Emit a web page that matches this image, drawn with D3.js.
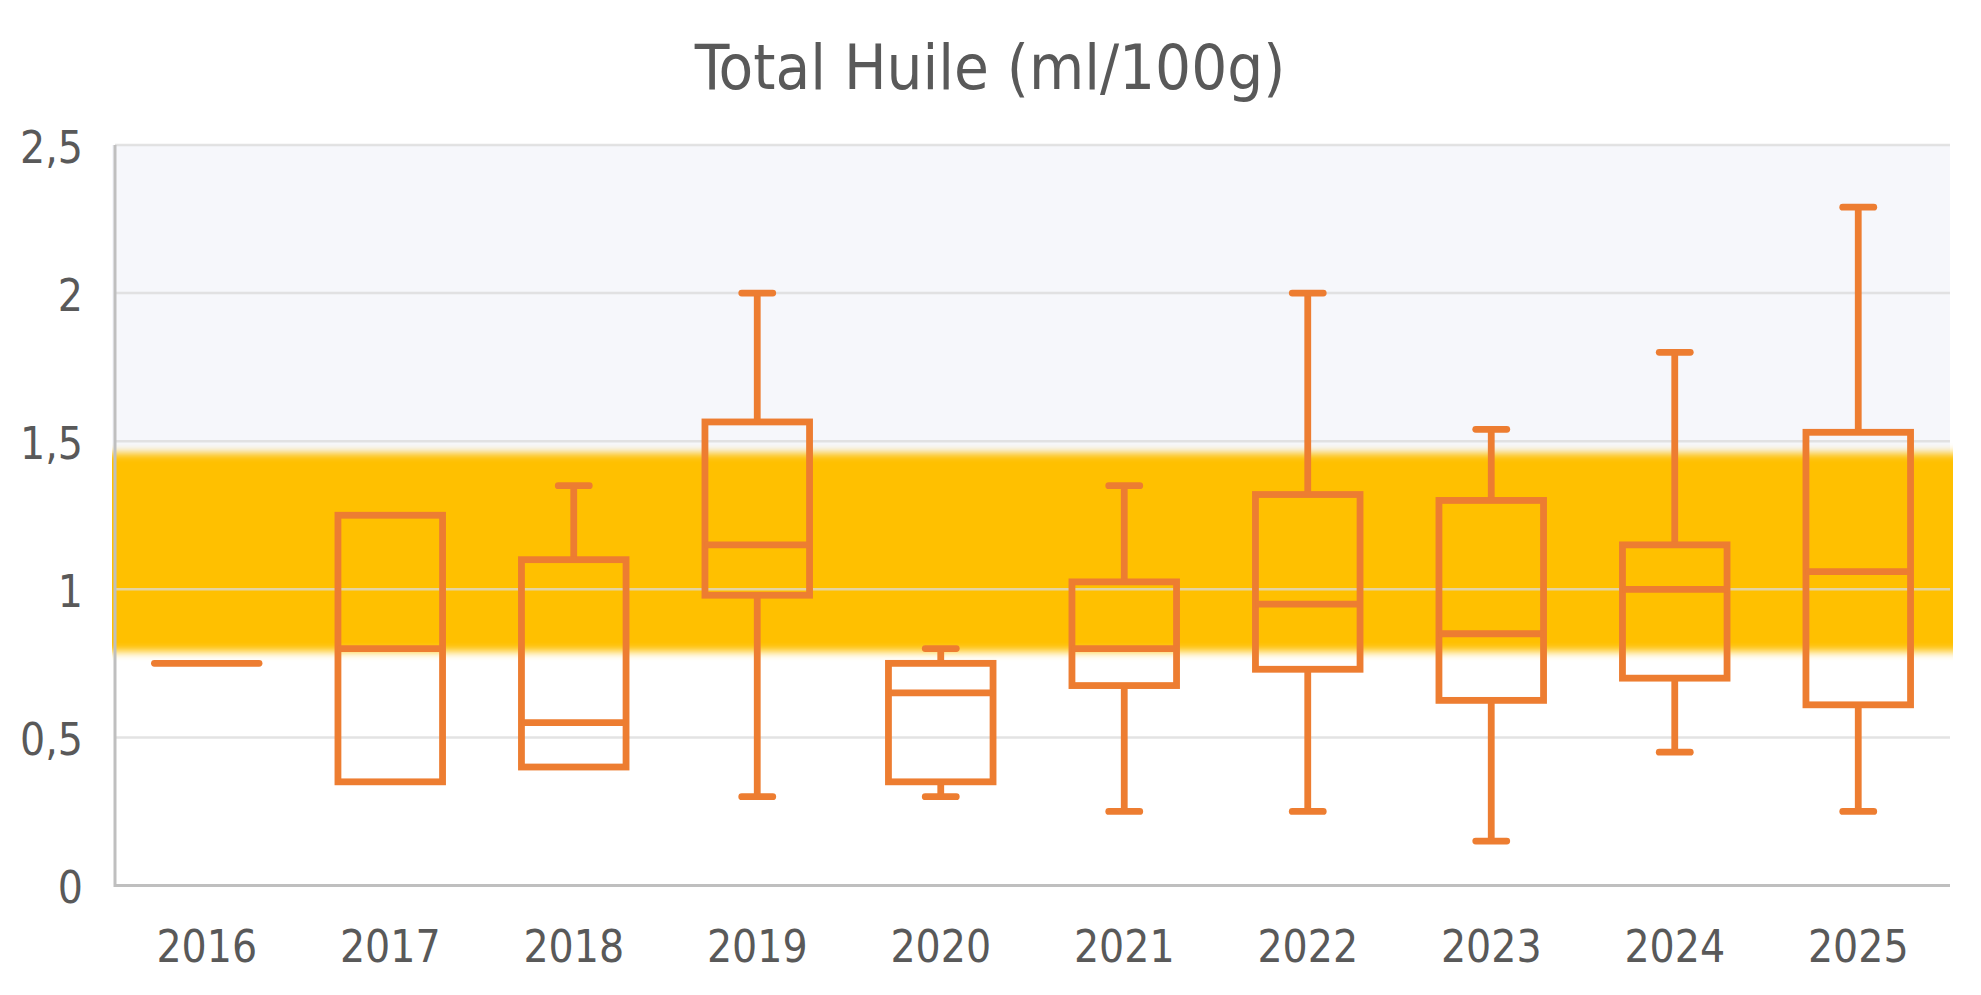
<!DOCTYPE html>
<html>
<head>
<meta charset="utf-8">
<script src="https://cdn.jsdelivr.net/npm/d3@7"></script>
<style>
  html, body { margin: 0; padding: 0; background: #ffffff; }
  svg { display: block; }
  text { font-family: "DejaVu Sans Condensed", "DejaVu Sans", sans-serif; fill: #595959; }
</style>
</head>
<body>
<svg id="chart" width="1981" height="995"></svg>
<script>
// ---- data ----
const years   = ["2016","2017","2018","2019","2020","2021","2022","2023","2024","2025"];
const minV    = [0.75, 0.35, 0.40, 0.30, 0.30, 0.25, 0.25, 0.15, 0.45, 0.25];
const q1V     = [0.75, 0.35, 0.40, 0.98, 0.35, 0.675, 0.73, 0.625, 0.70, 0.61];
const medV    = [0.75, 0.80, 0.55, 1.15, 0.65, 0.80, 0.95, 0.85, 1.00, 1.06];
const q3V     = [0.75, 1.25, 1.10, 1.565, 0.75, 1.025, 1.32, 1.30, 1.15, 1.53];
const maxV    = [0.75, 1.25, 1.35, 2.00, 0.80, 1.35, 2.00, 1.54, 1.80, 2.29];
const bandRange = [0.79, 1.46];           // yellow target band
const yTickValues = [0, 0.5, 1, 1.5, 2, 2.5];
const yTickLabels = ["0", "0,5", "1", "1,5", "2", "2,5"];
const titleText = "Total Huile (ml/100g)";

// ---- layout ----
const svg = d3.select("#chart");
const plotL = 115, plotR = 1950, plotT = 145, plotB = 885.5;
const orange = "#ED7D31";
const fontFam = '"DejaVu Sans Condensed", "DejaVu Sans", sans-serif';

const x = d3.scaleBand().domain(years).range([plotL, plotR]).padding(0);
const y = d3.scaleLinear().domain([0, 2.5]).range([plotB, plotT]);

const defs = svg.append("defs");
const f = defs.append("filter").attr("id", "soft")
  .attr("x", "0%").attr("y", "-50%").attr("width", "100%").attr("height", "200%");
f.append("feGaussianBlur").attr("stdDeviation", "0 4");

// light background in upper area
svg.append("rect")
  .attr("x", plotL - 3).attr("y", y(2.5))
  .attr("width", plotR - plotL + 3).attr("height", y(1.2) - y(2.5))
  .attr("fill", "#F6F7FB");

// yellow band
svg.append("rect")
  .attr("x", plotL - 3).attr("y", y(bandRange[1]))
  .attr("width", plotR - plotL + 6).attr("height", y(bandRange[0]) - y(bandRange[1]))
  .attr("fill", "#FFC000")
  .attr("filter", "url(#soft)");

// gridlines
svg.append("g").selectAll("line")
  .data(yTickValues.filter(v => v > 0))
  .join("line")
  .attr("x1", plotL).attr("x2", plotR)
  .attr("y1", d => y(d)).attr("y2", d => y(d))
  .attr("stroke", "#D9D9D9").attr("stroke-width", 2.5).attr("stroke-opacity", 0.75);

// axis lines
svg.append("line").attr("x1", plotL).attr("x2", plotL).attr("y1", y(2.5)).attr("y2", y(0) + 1.5)
  .attr("stroke", "#BFBFBF").attr("stroke-width", 3);
svg.append("line").attr("x1", plotL).attr("x2", plotR).attr("y1", y(0)).attr("y2", y(0))
  .attr("stroke", "#BFBFBF").attr("stroke-width", 3);

// y axis labels (d3 axis)
const yAxis = d3.axisLeft(y).tickValues(yTickValues).tickSize(0).tickPadding(0)
  .tickFormat((d, i) => yTickLabels[i]);
const gy = svg.append("g").attr("transform", "translate(83,0)").call(yAxis);
gy.select(".domain").remove();
gy.selectAll("text").attr("font-size", 44).attr("dy", "0.39em")
  .style("font-family", fontFam).attr("fill", "#595959");

// x axis labels
const xAxis = d3.axisBottom(x).tickSize(0).tickPadding(0);
const gx = svg.append("g").attr("transform", "translate(0,962)").call(xAxis);
gx.select(".domain").remove();
gx.selectAll("text").attr("font-size", 44).attr("dy", 0).attr("y", 0)
  .style("font-family", fontFam).attr("fill", "#595959");

// boxes
const data = years.map((yr, i) => ({ yr, min: minV[i], q1: q1V[i], med: medV[i], q3: q3V[i], max: maxV[i] }));
const bw = x.bandwidth() * 0.57;
const capW = 31;
const sw = 6.8;
const g = svg.append("g");

data.forEach(d => {
  const cx = x(d.yr) + x.bandwidth() / 2;
  if (d.q3 > d.q1) {
    if (d.max > d.q3) {
      g.append("line").attr("x1", cx).attr("x2", cx).attr("y1", y(d.q3)).attr("y2", y(d.max))
        .attr("stroke", orange).attr("stroke-width", sw);
      g.append("line").attr("x1", cx - capW / 2).attr("x2", cx + capW / 2).attr("y1", y(d.max)).attr("y2", y(d.max))
        .attr("stroke", orange).attr("stroke-width", sw).attr("stroke-linecap", "round");
    }
    if (d.min < d.q1) {
      g.append("line").attr("x1", cx).attr("x2", cx).attr("y1", y(d.q1)).attr("y2", y(d.min))
        .attr("stroke", orange).attr("stroke-width", sw);
      g.append("line").attr("x1", cx - capW / 2).attr("x2", cx + capW / 2).attr("y1", y(d.min)).attr("y2", y(d.min))
        .attr("stroke", orange).attr("stroke-width", sw).attr("stroke-linecap", "round");
    }
    g.append("rect")
      .attr("x", cx - bw / 2).attr("y", y(d.q3))
      .attr("width", bw).attr("height", y(d.q1) - y(d.q3))
      .attr("fill", "none").attr("stroke", orange).attr("stroke-width", sw);
    g.append("line").attr("x1", cx - bw / 2).attr("x2", cx + bw / 2).attr("y1", y(d.med)).attr("y2", y(d.med))
      .attr("stroke", orange).attr("stroke-width", sw);
  } else {
    g.append("line").attr("x1", cx - bw / 2).attr("x2", cx + bw / 2).attr("y1", y(d.med)).attr("y2", y(d.med))
      .attr("stroke", orange).attr("stroke-width", sw).attr("stroke-linecap", "round");
  }
});

// title
svg.append("text").attr("x", 990).attr("y", 89).attr("text-anchor", "middle")
  .attr("font-size", 63).style("font-family", fontFam).attr("fill", "#595959").text(titleText);
</script>
</body>
</html>
